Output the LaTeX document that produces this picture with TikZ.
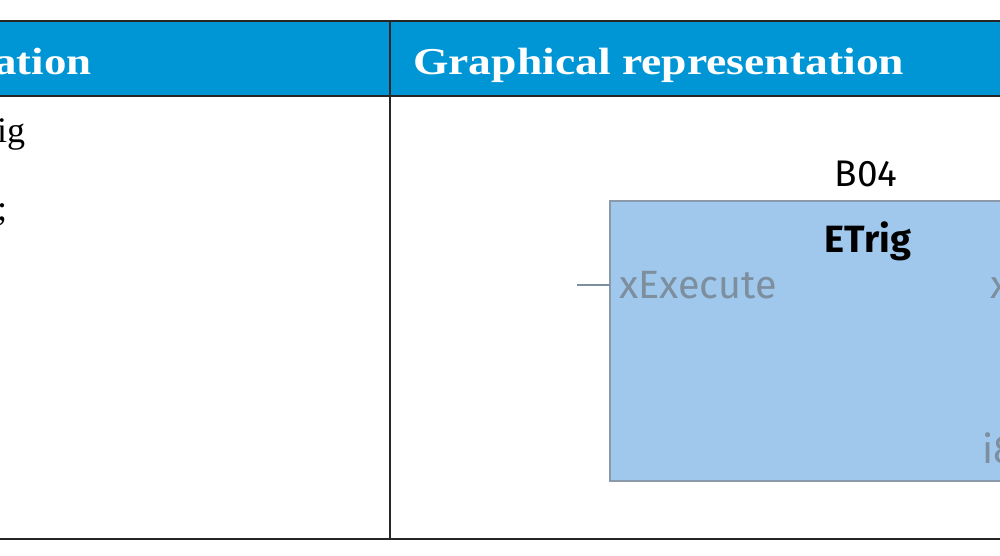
\documentclass[tikz,border=0pt]{standalone}
\usepackage{fontspec}
\usepackage{graphicx}
\setmainfont{Liberation Serif}
\newfontfamily\boxfont{Fira Sans}
\definecolor{hdr}{HTML}{0096D6}
\definecolor{fb}{HTML}{A0C8EC}
\definecolor{fbd}{HTML}{8A9AAA}
\definecolor{pin}{HTML}{7D8E9E}
\begin{document}
\begin{tikzpicture}[x=1pt,y=-1pt,
  hdrtext/.style={text=white,font=\fontsize{38}{40}\selectfont\bfseries,anchor=base west,inner sep=0},
  pintext/.style={text=pin,font=\boxfont\fontsize{39.5}{40}\selectfont,anchor=base west,inner sep=0},
  rule/.style={line width=2.2pt,draw=black!85}]
\useasboundingbox (0,0) rectangle (1000,556);
\fill[white] (0,0) rectangle (1000,556);
\fill[hdr] (0,21) rectangle (1000,96);
\draw[rule] (0,21) -- (1000,21);
\draw[rule] (0,96) -- (1000,96);
\draw[rule] (0,539) -- (1000,539);
\draw[rule] (390,21) -- (390,539);
\node[hdrtext] (h1) at (-6,75) {\scalebox{1.18}[1]{ation}};
\node[hdrtext] (h2) at (413,75) {\scalebox{1.2}[1]{Graphical representation}};
\node[anchor=base west,inner sep=0,font=\fontsize{36}{40}\selectfont] (l1) at (-3,143) {ig};
\node[anchor=base west,inner sep=0,font=\fontsize{36}{40}\selectfont] (l2) at (-3,220) {;};
\node[anchor=base,inner sep=0,font=\boxfont\fontsize{37}{40}\selectfont] (b04) at (866,186) {B04};
\draw[fill=fb,draw=fbd,line width=2pt] (610,201) rectangle (1010,481);
\coordinate (boxin) at (610,285);
\coordinate (pinend) at (577,285);
\node[anchor=base,inner sep=0,font=\boxfont\bfseries\fontsize{38}{40}\selectfont] (etrig) at (868,252) {ETrig};
\node[pintext] (xe) at (619,298) {xExecute};
\node[pintext] (xr) at (990,298) {x};
\node[pintext] (ir) at (982,463) {i8};
\draw[draw=pin,line width=2.2pt] (pinend) -- (boxin);
\end{tikzpicture}
\end{document}
